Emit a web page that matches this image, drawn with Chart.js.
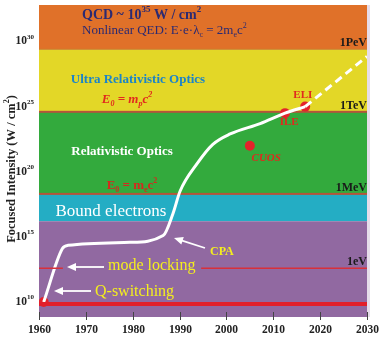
<!DOCTYPE html>
<html>
<head>
<meta charset="utf-8">
<script src="https://cdn.jsdelivr.net/npm/chart.js@4"></script>
<style>
  html, body { margin: 0; padding: 0; background: #fff; }
  #wrap { width: 381px; height: 342px; }
</style>
</head>
<body>
<div id="wrap"><canvas id="laserChart"></canvas></div>
<script>
// Peak focused intensity of lasers over time (exponent of W/cm^2)
const years = [1961, 1965, 1966.2, 1979.4, 1986.5, 1988.6, 1990.1, 1993.7, 1997.1, 2000.8, 2007.2, 2012.5, 2016.8];
const intensityExp = [10, 14.1, 14.35, 14.58, 15.1, 16.8, 18.5, 20.6, 22.1, 22.9, 23.7, 24.5, 25.0];

// projected trend (dashed)
const futureYears = [2016.8, 2030];
const futureExp = [25.0, 28.85];

// facilities / milestones
const facilityNames = ['', 'ILE', 'ELI', 'CUOS'];
const facilityYears = [1961, 2012.5, 2016.8, 2005];
const facilityExp = [10, 24.5, 25.0, 22.0];

// physics regimes (lower exponent, upper exponent)
const bandLow = [29.4, 24.6, 18.3, 16.2, 8.85];
const bandHigh = [32.8, 29.4, 24.6, 18.3, 16.2];
const bandColors = ['#e07129', '#e3d727', '#33aa3d', '#24adc4', '#9169a1'];

// energy levels
const energyNames = ['1PeV', '1TeV', '1MeV', '1eV'];
const energyExp = [29.4, 24.6, 18.3, 12.6];

const yearTicks = [1960, 1970, 1980, 1990, 2000, 2010, 2020, 2030];
const intensityTicks = [10, 15, 20, 25, 30];

const SERIF = '"Liberation Serif", "Times New Roman", serif';

function toPoints(xs, es) {
    return xs.map((x, i) => ({ x: x, y: Math.pow(10, es[i]) }));
}

/**
 * Draw text with super/subscript parts
 */
function rich(ctx, parts, x, y, size, weight, italic, color, align) {
    const font = k => `${italic ? 'italic ' : ''}${weight} ${k === 'n' ? size : Math.round(size * 0.62)}px ${SERIF}`;
    let w = 0;
    parts.forEach(([t, k]) => { ctx.font = font(k); w += ctx.measureText(t).width; });
    let cx = align === 'center' ? x - w / 2 : align === 'right' ? x - w : x;
    ctx.fillStyle = color;
    ctx.textBaseline = 'middle';
    ctx.textAlign = 'left';
    parts.forEach(([t, k]) => {
        ctx.font = font(k);
        const dy = k === 'sup' ? -size * 0.38 : k === 'sub' ? size * 0.28 : 0;
        ctx.fillText(t, cx, y + dy);
        cx += ctx.measureText(t).width;
    });
}

function arrow(ctx, x1, y1, x2, y2) {
    const a = Math.atan2(y2 - y1, x2 - x1);
    ctx.save();
    ctx.strokeStyle = '#fff';
    ctx.fillStyle = '#fff';
    ctx.lineWidth = 1.8;
    ctx.beginPath();
    ctx.moveTo(x1, y1);
    ctx.lineTo(x2 - 6 * Math.cos(a), y2 - 6 * Math.sin(a));
    ctx.stroke();
    ctx.beginPath();
    ctx.moveTo(x2, y2);
    ctx.lineTo(x2 - 9 * Math.cos(a) + 4 * Math.sin(a), y2 - 9 * Math.sin(a) - 4 * Math.cos(a));
    ctx.lineTo(x2 - 9 * Math.cos(a) - 4 * Math.sin(a), y2 - 9 * Math.sin(a) + 4 * Math.cos(a));
    ctx.closePath();
    ctx.fill();
    ctx.restore();
}

const regimePlugin = {
    id: 'regimes',
    beforeDatasetsDraw(chart) {
        const { ctx, chartArea: a, scales: { y } } = chart;
        ctx.save();
        bandLow.forEach((lo, i) => {
            const top = y.getPixelForValue(Math.pow(10, bandHigh[i]));
            const bot = y.getPixelForValue(Math.pow(10, lo));
            ctx.fillStyle = bandColors[i];
            ctx.fillRect(a.left, top, a.right - a.left, bot - top);
        });
        // regime boundaries
        [[29.4, '#c8802e', 1], [24.6, '#b4553a', 2], [18.3, '#b4553a', 2]].forEach(([e, c, w]) => {
            const py = y.getPixelForValue(Math.pow(10, e));
            ctx.fillStyle = c;
            ctx.fillRect(a.left, py - w / 2, a.right - a.left, w);
        });
        // light strip on right edge
        ctx.fillStyle = '#e6ddea';
        ctx.fillRect(a.right, a.top, 3, a.bottom - a.top);
        ctx.restore();
    },
    afterDatasetsDraw(chart) {
        const { ctx, chartArea: a, scales: { x, y } } = chart;
        const px = v => x.getPixelForValue(v);
        const py = e => y.getPixelForValue(Math.pow(10, e));
        ctx.save();

        // regime labels
        rich(ctx, [['QCD ~ 10', 'n'], ['35', 'sup'], [' W / cm', 'n'], ['2', 'sup']], 82, 15, 14, 'bold', false, '#2b2a72', 'left');
        rich(ctx, [['Nonlinear QED: E·e·λ', 'n'], ['c', 'sub'], [' = 2m', 'n'], ['e', 'sub'], ['c', 'n'], ['2', 'sup']], 82, 31, 13, 'normal', false, '#2b2a72', 'left');
        rich(ctx, [['Ultra Relativistic Optics', 'n']], 138, 80, 13, 'bold', false, '#1b84c9', 'center');
        rich(ctx, [['E', 'n'], ['0', 'sub'], [' = m', 'n'], ['p', 'sub'], ['c', 'n'], ['2', 'sup']], 127, 100, 13, 'bold', true, '#e22a1e', 'center');
        rich(ctx, [['Relativistic Optics', 'n']], 122, 152, 13, 'bold', false, '#ffffff', 'center');
        rich(ctx, [['E', 'n'], ['0', 'sub'], [' = m', 'n'], ['e', 'sub'], ['c', 'n'], ['2', 'sup']], 132, 186, 13, 'bold', false, '#d42a1e', 'center');
        rich(ctx, [['Bound electrons', 'n']], 111, 212, 17, 'normal', false, '#ffffff', 'center');

        // energy labels
        energyNames.forEach((n, i) => {
            rich(ctx, [[n, 'n']], a.right, py(energyExp[i]) - 6, 12, 'bold', false, '#1a1a1a', 'right');
        });

        // facility labels
        rich(ctx, [['ELI', 'n']], px(2016.3), 95, 11, 'bold', false, '#e02a1e', 'center');
        rich(ctx, [['ILE', 'n']], px(2013.4), 122, 11, 'bold', false, '#e02a1e', 'center');
        rich(ctx, [['CUOS', 'n']], px(2008.5), 158, 11, 'bold', true, '#e02a1e', 'center');

        // technique labels
        rich(ctx, [['CPA', 'n']], 210, 252, 12, 'bold', false, '#f4ee1e', 'left');
        arrow(ctx, 205, 248, 174, 238);
        rich(ctx, [['mode locking', 'n']], 108, 266, 16, 'normal', false, '#f4ee1e', 'left');
        arrow(ctx, 104, 267, 67, 267);
        rich(ctx, [['Q-switching', 'n']], 95, 292, 16, 'normal', false, '#f4ee1e', 'left');
        arrow(ctx, 91, 291, 54, 291);

        // x ticks
        ctx.strokeStyle = '#444';
        ctx.lineWidth = 1;
        yearTicks.forEach(t => {
            const xx = Math.round(px(t)) + 0.5;
            ctx.beginPath();
            ctx.moveTo(xx, a.bottom - 5);
            ctx.lineTo(xx, a.bottom + 3);
            ctx.stroke();
            rich(ctx, [[String(t), 'n']], xx, a.bottom + 13, 11.5, 'bold', false, '#222', 'center');
        });

        // y ticks
        intensityTicks.forEach(e => {
            rich(ctx, [['10', 'n'], [String(e), 'sup']], 34, py(e), 11.5, 'bold', false, '#222', 'right');
        });

        // y title
        ctx.translate(12, (a.top + a.bottom) / 2 + 8);
        ctx.rotate(-Math.PI / 2);
        rich(ctx, [['Focused Intensity (W / cm', 'n'], ['2', 'sup'], [')', 'n']], 0, 0, 12.5, 'bold', false, '#222', 'center');
        ctx.restore();
    }
};

document.addEventListener('DOMContentLoaded', function() {
    const ctx = document.getElementById('laserChart').getContext('2d');

    const eVLine = [
        { x: 1960, y: Math.pow(10, energyExp[3]) },
        { x: 1965.1, y: Math.pow(10, energyExp[3]) },
        { x: 1980, y: null },
        { x: 1994.6, y: Math.pow(10, energyExp[3]) },
        { x: 2030, y: Math.pow(10, energyExp[3]) }
    ];

    new Chart(ctx, {
        type: 'line',
        data: {
            datasets: [
                {
                    data: eVLine,
                    borderColor: '#d8303a',
                    borderWidth: 1.5,
                    pointRadius: 0,
                    spanGaps: false
                },
                {
                    data: toPoints([1960, 2030], [9.85, 9.85]),
                    borderColor: '#e21f2a',
                    borderWidth: 4,
                    pointRadius: 0
                },
                {
                    data: toPoints(years, intensityExp),
                    borderColor: '#ffffff',
                    borderWidth: 3,
                    pointRadius: 0,
                    cubicInterpolationMode: 'monotone'
                },
                {
                    data: toPoints(futureYears, futureExp),
                    borderColor: '#ffffff',
                    borderWidth: 3,
                    borderDash: [8, 5],
                    pointRadius: 0
                },
                {
                    data: toPoints(facilityYears, facilityExp),
                    showLine: false,
                    pointRadius: 5,
                    pointBackgroundColor: '#e3232a',
                    pointBorderWidth: 0
                }
            ]
        },
        options: {
            responsive: true,
            maintainAspectRatio: false,
            animation: false,
            layout: { padding: { top: 3, right: 14, left: 0, bottom: 0 } },
            plugins: {
                legend: { display: false },
                tooltip: { enabled: false }
            },
            scales: {
                x: {
                    type: 'linear',
                    min: 1960,
                    max: 2030,
                    grid: { display: false },
                    border: { display: false },
                    ticks: { display: false },
                    afterFit: s => { s.height = 25; }
                },
                y: {
                    type: 'logarithmic',
                    min: Math.pow(10, 8.85),
                    max: Math.pow(10, 32.8),
                    grid: { display: false },
                    border: { display: false },
                    ticks: { display: false },
                    afterFit: s => { s.width = 39; }
                }
            }
        },
        plugins: [regimePlugin]
    });
});
</script>
</body>
</html>
